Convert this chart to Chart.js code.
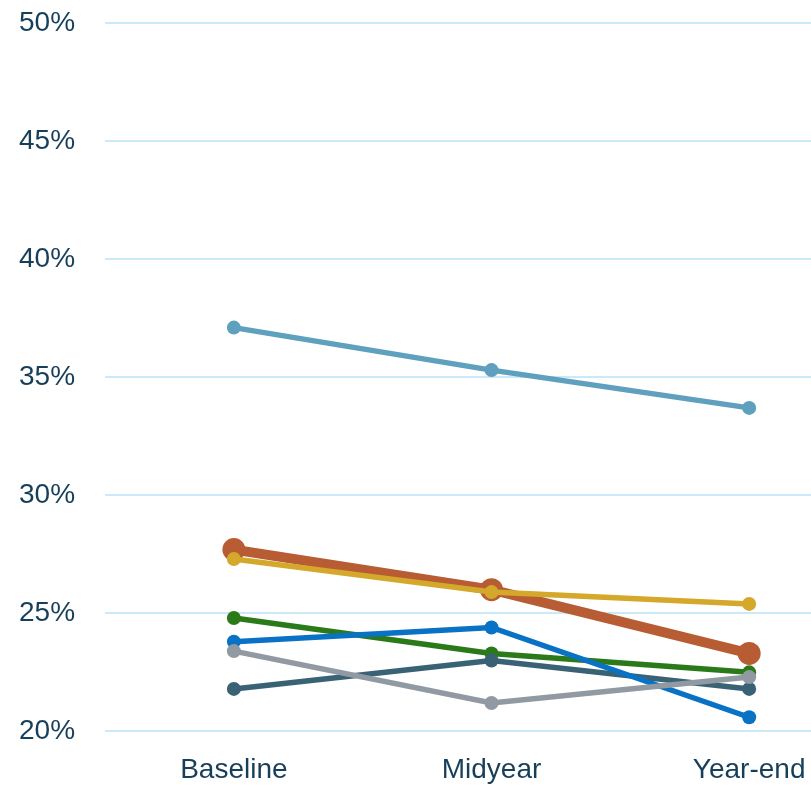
<!DOCTYPE html>
<html>
<head>
<meta charset="utf-8">
<script src="https://cdn.jsdelivr.net/npm/chart.js@4"></script>
<style>
  html, body { margin: 0; padding: 0; background: #fff; }
  #wrap { width: 811px; height: 789px; }
</style>
</head>
<body>
<div id="wrap"><canvas id="lineChart"></canvas></div>
<script>
var periods = ['Baseline', 'Midyear', 'Year-end'];
var yTicks = [20, 25, 30, 35, 40, 45, 50];

// series values, percent
var lightBlue = [37.1, 35.3, 33.7];
var orange    = [27.7, 26.0, 23.3];
var gold      = [27.3, 25.9, 25.4];
var green     = [24.8, 23.3, 22.5];
var blue      = [23.8, 24.4, 20.6];
var gray      = [23.4, 21.2, 22.3];
var slate     = [21.8, 23.0, 21.8];

function pts(vals) {
    return vals.map(function (v, i) { return { x: i, y: v }; });
}

function series(vals, color, width, radius) {
    return {
        data: pts(vals),
        borderColor: color,
        backgroundColor: color,
        borderWidth: width,
        pointRadius: radius,
        pointHoverRadius: radius,
        pointBorderWidth: 0,
        tension: 0
    };
}

var font = "'Liberation Sans Narrow', 'Liberation Sans', Arial, sans-serif";

var ctx = document.getElementById('lineChart').getContext('2d');
var lineChart = new Chart(ctx, {
    type: 'line',
    data: {
        // first dataset is drawn on top
        datasets: [
            series(lightBlue, '#5fa0bf', 5.5, 7),
            series(gray, '#9199a3', 5.5, 7),
            series(gold, '#d4a82a', 5.5, 7),
            series(blue, '#0a72c4', 5.5, 7),
            series(slate, '#3a6275', 5.5, 7),
            series(green, '#2a7a1a', 5.5, 7),
            series(orange, '#b85c33', 10, 11.5)
        ]
    },
    options: {
        responsive: true,
        maintainAspectRatio: false,
        animation: false,
        layout: { autoPadding: false, padding: { top: 23, right: 0, left: 19, bottom: 2 } },
        plugins: {
            legend: { display: false },
            tooltip: { enabled: false }
        },
        scales: {
            x: {
                type: 'linear',
                min: -0.5,
                max: 2.24,
                afterBuildTicks: function (axis) {
                    axis.ticks = periods.map(function (p, i) { return { value: i }; });
                },
                afterFit: function (axis) {
                    // labels fit inside the plot, no side padding wanted
                    axis.paddingLeft = 0;
                    axis.paddingRight = 0;
                },
                // invisible tick marks used as spacing so padding doesn't widen the sides
                grid: { display: false, drawTicks: true, tickLength: 22 },
                border: { display: false },
                ticks: {
                    color: '#173f5a',
                    font: { family: font, size: 28 },
                    padding: 0,
                    maxRotation: 0,
                    autoSkip: false,
                    callback: function (v) { return periods[v]; }
                }
            },
            y: {
                min: 20,
                max: 50,
                afterBuildTicks: function (axis) {
                    axis.ticks = yTicks.map(function (t) { return { value: t }; });
                },
                grid: { color: '#cbe9f8', lineWidth: 2, drawTicks: true, tickLength: 30, tickColor: 'rgba(0,0,0,0)' },
                border: { display: false },
                ticks: {
                    color: '#173f5a',
                    font: { family: font, size: 28 },
                    padding: 0,
                    callback: function (v) { return v + '%'; }
                }
            }
        }
    }
});
</script>
</body>
</html>
